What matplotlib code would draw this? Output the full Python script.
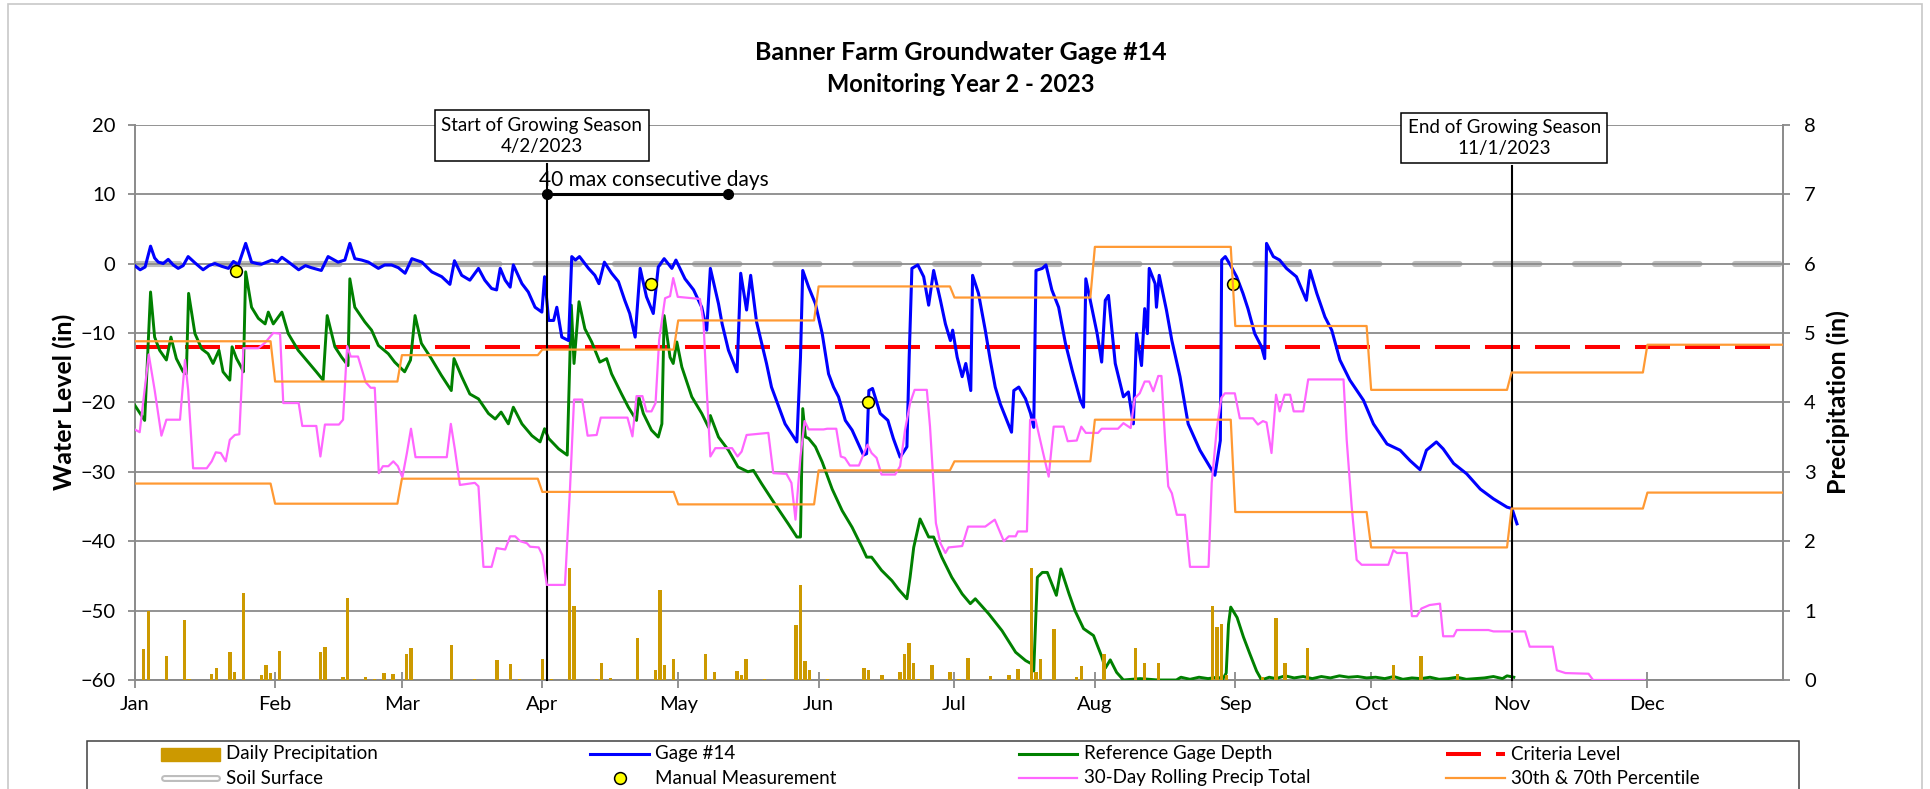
import matplotlib
matplotlib.use("Agg")
import matplotlib.pyplot as plt
from matplotlib.lines import Line2D
from matplotlib.patches import Rectangle

plt.rcParams['font.family'] = ['Lato', 'DejaVu Sans']
plt.rcParams['lines.scale_dashes'] = False

# ---- data (x = day of year, Jan 1 = 0) ----
month_starts = [0, 31, 59, 90, 120, 151, 181, 212, 243, 273, 304, 334]
month_labels = ['Jan', 'Feb', 'Mar', 'Apr', 'May', 'Jun',
                'Jul', 'Aug', 'Sep', 'Oct', 'Nov', 'Dec']

gage_day = [0, 1.2, 2.3, 3.5, 4.4, 5.2, 6.3, 7.4, 8.5, 9.6, 10.7, 11.8, 13.3, 15.1, 16.4,
            17.7, 19.2, 20.7, 21.8, 22.9, 24.5, 25.8, 27.0, 28.0, 30.3, 31.5, 32.5, 34.0,
            36.2, 37.7, 39.0, 41.2, 42.7, 44.9, 46.4, 47.5, 48.6, 50.1, 51.6, 53.8, 55.2,
            56.7, 58.2, 59.7, 61.2, 63.4, 65.6, 67.8, 69.6, 70.6, 72.2, 74.0, 75.9, 77.3,
            78.8, 79.9, 80.7, 81.8, 82.9, 83.6, 85.5, 86.9, 88.4, 89.9, 90.5, 91.4, 92.5,
            93.2, 94.3, 95.8, 96.5, 97.3, 98.2, 100.2, 101.6, 102.5, 103.7, 105.3, 106.8,
            108.2, 109.3, 110.5, 111.6, 113.0, 114.5, 115.6, 116.9, 118.6, 119.5, 121.5,
            123.4, 125.2, 126.3, 127.1, 128.9, 129.7, 131.1, 133.0, 133.8, 135.1, 136.0,
            137.3, 139.5, 140.6, 143.6, 146.2, 147.0, 147.5, 148.8, 150.3, 151.8, 153.2,
            154.3, 155.4, 156.9, 158.4, 160.9, 161.6, 162.1, 162.9, 164.6, 166.3, 167.5,
            169.0, 170.5, 171.0, 171.6, 172.9, 174.2, 175.3, 176.4, 177.9, 179.0, 180.1,
            180.6, 181.6, 182.7, 183.5, 184.6, 185.0, 186.3, 187.8, 188.9, 190.0, 191.1,
            193.6, 194.1, 195.2, 196.7, 197.8, 198.5, 199.0, 200.4, 201.2, 202.5, 204.0,
            205.5, 207.0, 208.8, 209.5, 210.0, 211.3, 212.5, 213.5, 214.3, 215.0, 216.5,
            218.3, 219.4, 220.5, 221.2, 222.3, 223.0, 223.6, 224.0, 225.3, 225.6, 226.2,
            227.8, 229.0, 230.8, 232.6, 235.2, 237.4, 238.5, 239.7, 240.0, 240.8, 241.9,
            243.3, 244.7, 245.8, 247.3, 248.8, 249.5, 249.9, 251.4, 252.8, 254.3, 256.5,
            258.7, 259.5, 261.0, 262.8, 264.3, 266.1, 268.3, 271.3, 273.5, 276.5, 279.4,
            281.6, 283.8, 285.2, 287.4, 288.9, 291.2, 294.1, 297.1, 300.0, 303.0, 304.1,
            305.2]
gage_in = [-0.3, -0.9, -0.5, 2.5, 0.8, 0.2, 0.0, 0.6, -0.2, -0.7, -0.3, 1.0, 0.1, -0.9, -0.3,
           0.0, -0.4, -0.7, 0.3, -0.2, 2.9, 0.2, 0.0, -0.1, 0.5, 0.2, 0.9, 0.2,
           -0.9, -0.3, -0.6, -1.0, 1.0, 0.2, 0.5, 2.9, 0.7, 0.5, 0.2, -0.7, -0.2,
           -0.2, -0.6, -1.4, 0.7, 0.2, -1.2, -1.9, -3.0, 0.4, -1.7, -2.4, -0.7, -2.4,
           -3.6, -3.8, -0.7, -2.4, -3.4, -0.2, -2.9, -4.1, -6.3, -7.0, -1.9, -8.2, -8.2,
           -6.3, -10.6, -11.1, 1.0, 0.5, 1.0, -0.7, -1.7, -2.9, 0.2, -1.4, -2.6,
           -5.3, -7.2, -10.6, -0.7, -4.8, -7.2, -0.5, 0.7, -0.7, 0.5, -2.2,
           -3.8, -6.3, -9.6, -0.7, -5.8, -8.7, -12.5, -15.6, -1.4, -6.7, -1.7,
           -8.4, -14.4, -17.8, -23.1, -25.7, -13.5, -1.0, -3.4, -5.8, -10.1, -15.9,
           -17.8, -19.2, -22.6, -24.0, -27.6, -27.4, -18.3, -18.0, -21.6, -22.6, -25.2,
           -27.9, -26.4, -13.5, -0.7, -0.2, -1.9, -6.0, -1.0, -5.3, -8.7, -11.1,
           -9.6, -13.5, -16.3, -14.4, -18.3, -1.7, -4.3, -9.6, -13.9, -17.8, -20.2,
           -24.3, -18.3, -17.8, -19.5, -21.6, -23.6, -1.0, -0.7, -0.2, -3.8, -6.3,
           -11.5, -15.4, -19.7, -20.7, -2.2, -6.3, -10.1, -14.2, -5.3, -4.6, -14.4,
           -19.2, -18.5, -23.1, -10.1, -14.7, -6.5, -10.1, -0.7, -2.9, -6.3, -1.7,
           -6.7, -11.1, -16.3, -23.1, -26.9, -29.3, -30.5, -25.5, 0.5, 1.0, -0.2,
           -1.9, -4.3, -6.5, -10.1, -12.0, -13.7, 2.9, 1.0, 0.5, -0.7, -1.9,
           -5.3, -1.0, -4.3, -7.7, -9.6, -13.9, -16.8, -19.7, -23.1, -26.0, -26.9,
           -28.4, -29.7, -26.9, -25.7, -26.7, -28.8, -30.3, -32.5, -33.9, -35.1, -35.3,
           -37.5]

ref_day = [0, 2.2, 3.5, 4.4, 5.5, 7.0, 8.0, 9.2, 10.7, 11.4, 11.9, 13.3, 14.8, 16.2, 17.3,
           18.6, 19.5, 21.0, 21.5, 22.5, 23.5, 24.0, 24.5, 25.8, 27.3, 28.8, 29.5, 30.6,
           32.5, 33.9, 36.1, 38.3, 40.1, 41.6, 42.5, 44.2, 45.7, 47.1, 47.5, 48.6, 50.8,
           52.3, 53.8, 56.0, 57.4, 59.6, 60.9, 61.9, 63.3, 65.5, 67.7, 69.9, 70.5, 72.2,
           74.0, 75.9, 78.1, 79.6, 80.9, 82.5, 83.6, 85.5, 87.7, 89.5, 90.5, 91.4, 93.6,
           95.5, 96.4, 97.0, 98.1, 99.4, 100.9, 102.7, 104.2, 105.3, 107.5, 109.0, 110.8,
           111.3, 112.3, 114.1, 115.6, 116.4, 116.9, 118.2, 118.9, 119.7, 120.8, 123.0,
           125.2, 126.7, 127.1, 128.9, 131.1, 133.2, 135.4, 136.6, 138.4, 141.3, 144.3,
           146.2, 147.0, 147.5, 148.1, 148.8, 150.3, 151.8, 154.0, 156.2, 158.4, 160.6,
           161.6, 162.7, 164.9, 167.2, 168.6, 170.5, 171.2, 172.0, 173.4, 175.3, 176.4,
           178.2, 180.4, 182.7, 184.5, 185.6, 188.6, 191.5, 194.5, 196.7, 198.1, 198.5,
           199.3, 200.4, 201.5, 203.5, 204.5, 206.3, 207.6, 209.5, 211.7, 213.5, 214.3,
           215.4, 216.8, 218.3, 222, 226, 230, 231, 233, 235, 237, 239, 240.3, 241.0,
           241.5, 242.0, 243.4, 244.8, 246.2, 247.7, 248.8, 250.5, 252, 254, 256, 258,
           260, 262, 264, 266, 268, 270, 272, 274, 276, 278, 280, 282, 284, 286, 288,
           290, 292, 294, 296, 298, 300, 302, 303, 304.5]
ref_in = [-20.4, -22.6, -4.1, -10.6, -12.5, -13.9, -10.6, -13.7, -15.6, -15.9, -4.3, -10.1,
          -12.3, -13.0, -14.4, -12.5, -15.6, -16.8, -12.0, -13.7, -14.9, -15.6, -1.2, -6.3,
          -7.9, -8.7, -7.0, -8.7, -7.0, -10.1, -12.5, -14.2, -15.6, -16.8, -7.5, -12.0,
          -13.5, -14.7, -2.2, -6.3, -8.4, -9.6, -11.8, -13.0, -14.2, -15.6, -13.9, -7.5,
          -11.5, -13.7, -16.1, -18.3, -13.7, -16.3, -18.8, -19.5, -21.6, -22.4, -21.4,
          -23.1, -20.7, -23.1, -24.8, -25.7, -23.8, -25.2, -26.7, -27.6, -6.0, -14.4,
          -5.5, -9.4, -11.3, -14.2, -13.7, -15.9, -18.8, -20.7, -22.6, -19.2, -21.6,
          -24.0, -25.0, -23.1, -7.5, -13.5, -14.4, -11.3, -14.9, -19.2, -21.6, -23.6,
          -21.9, -25.0, -26.9, -29.3, -30.0, -29.8, -31.7, -34.6, -37.5, -39.4, -39.4,
          -20.9, -25.0, -25.2, -26.4, -28.6, -32.5, -35.6, -38.0, -40.9, -42.3, -42.3,
          -44.2, -45.7, -46.9, -48.3, -45.2, -40.9, -36.8, -39.4, -39.4, -42.3, -45.2,
          -47.6, -49.0, -48.3, -50.5, -52.9, -56.0, -57.2, -57.7, -58.7, -45.2, -44.5,
          -44.5, -47.8, -44.0, -47.6, -50.0, -52.6, -53.6, -56.6, -58.3, -57.1, -58.9,
          -60.0, -59.8, -60.0, -60.0, -59.6, -59.9, -59.6, -59.8, -59.6, -59.8, -59.0,
          -52.0, -49.5, -51.0, -53.8, -56.2, -58.7, -60.0, -59.6, -59.8, -59.4, -59.7,
          -59.5, -59.8, -59.5, -59.7, -59.4, -59.6, -59.5, -59.7, -59.6, -59.8, -59.5,
          -59.9, -59.7, -59.8, -59.6, -59.9, -59.8, -59.6, -59.9, -59.8, -59.7, -59.5,
          -59.8, -59.4, -59.6]

rolling_day = [0, 1.1, 3.1, 4.4, 5.9, 7.0, 10.0, 11.1, 11.8, 12.9, 15.9, 17.0, 17.9, 19.0,
               20.1, 21.0, 22.1, 23.1, 24.0, 27.3, 28.8, 30.6, 32.1, 32.8, 36.2, 37.0, 40.1,
               41.0, 42.0, 45.1, 46.0, 46.9, 47.7, 49.3, 51.0, 52.1, 53.0, 53.9, 54.8, 56.0,
               57.1, 58.1, 59.1, 60.1, 61.0, 62.0, 68.9, 69.8, 70.7, 71.8, 75.1, 75.9, 77.0,
               78.8, 79.9, 81.8, 82.9, 84.0, 85.1, 86.6, 87.3, 89.2, 90.0, 91.0, 95.0, 96.1,
               97.0, 98.8, 100.0, 102.0, 102.9, 108.8, 109.9, 110.8, 112.1, 113.0, 114.1,
               115.0, 115.8, 117.1, 118.2, 118.9, 119.9, 124.8, 125.6, 126.3, 127.1, 128.2,
               131.9, 133.1, 134.0, 135.1, 139.9, 141.0, 143.9, 145.0, 145.9, 147.0, 147.9,
               148.8, 152.1, 152.9, 154.9, 155.9, 156.8, 157.9, 159.9, 161.8, 162.7, 163.8,
               164.9, 167.9, 169.0, 170.1, 171.2, 172.2, 174.9, 175.6, 176.9, 177.9, 179.0,
               179.7, 182.7, 184.0, 187.8, 189.9, 191.9, 193.0, 194.5, 195.0, 197.0, 197.7,
               198.9, 200.4, 201.8, 202.9, 205.1, 206.0, 208.0, 209.0, 210.0, 212.7, 213.5,
               217.1, 218.3, 219.9, 220.8, 221.9, 223.0, 224.0, 224.9, 226.0, 226.7, 227.5,
               228.2, 229.0, 230.1, 231.9, 233.0, 237.1, 237.8, 238.9, 239.9, 240.7, 242.9,
               244.0, 246.9, 248.0, 249.1, 249.9, 251.0, 252.0, 252.8, 253.9, 255.1, 255.9,
               258.0, 259.1, 266.9, 267.6, 268.7, 269.8, 270.9, 276.8, 277.9, 278.7, 280.9,
               282.0, 283.1, 284.1, 285.9, 288.2, 288.9, 291.2, 291.9, 298.9, 300.0, 307.0,
               308.0, 313.1, 314.0, 315.9, 321.0, 322.0, 333.3]
rolling_in = [3.61, 3.57, 4.69, 4.18, 3.52, 3.75, 3.75, 4.61, 4.18, 3.05, 3.05, 3.15, 3.28,
              3.27, 3.15, 3.46, 3.53, 3.54, 4.78, 4.78, 4.86, 5.00, 4.99, 3.99, 3.99, 3.66,
              3.66, 3.22, 3.68, 3.68, 3.75, 4.81, 4.66, 4.66, 4.29, 4.21, 4.21, 2.98, 3.08,
              3.08, 3.15, 3.08, 2.92, 3.27, 3.62, 3.21, 3.21, 3.69, 3.32, 2.81, 2.84, 2.79,
              1.63, 1.63, 1.90, 1.88, 2.07, 2.07, 2.00, 1.97, 1.92, 1.91, 1.80, 1.37, 1.37,
              2.74, 4.04, 4.04, 3.52, 3.53, 3.78, 3.78, 3.51, 4.09, 4.09, 3.87, 3.87, 3.99,
              4.90, 5.50, 5.53, 5.79, 5.52, 5.49, 5.14, 4.18, 3.22, 3.34, 3.34, 3.22, 3.29,
              3.53, 3.56, 2.98, 2.97, 2.84, 2.31, 3.22, 3.73, 3.61, 3.61, 3.62, 3.62, 3.22,
              3.20, 3.09, 3.09, 3.39, 3.27, 3.20, 2.96, 2.96, 3.08, 3.61, 3.99, 4.18, 4.18,
              3.65, 2.26, 1.97, 1.83, 1.91, 1.93, 2.21, 2.21, 2.31, 2.00, 2.07, 2.07, 2.14,
              2.14, 3.75, 3.75, 3.32, 2.93, 3.65, 3.65, 3.44, 3.45, 3.65, 3.56, 3.56, 3.62,
              3.62, 3.70, 3.63, 4.06, 4.13, 4.30, 4.30, 4.16, 4.38, 4.38, 3.46, 2.79, 2.69,
              2.38, 2.38, 1.63, 1.63, 2.84, 3.61, 4.06, 4.13, 4.13, 3.77, 3.77, 3.68, 3.73,
              3.71, 3.27, 4.11, 3.87, 4.11, 4.11, 3.87, 3.87, 4.33, 4.33, 3.46, 2.50, 1.73,
              1.66, 1.66, 1.87, 1.83, 1.83, 0.92, 0.92, 1.03, 1.08, 1.10, 0.63, 0.63, 0.72,
              0.72, 0.70, 0.70, 0.48, 0.48, 0.14, 0.10, 0.09, 0.00, 0.00]

precip_day = [2, 3, 7, 11, 12, 17, 18, 21, 22, 24, 28, 29, 30, 32, 41, 42, 46, 47, 51, 53,
              55, 57, 60, 61, 70, 75, 80, 83, 85, 90, 92, 96, 97, 102, 103, 105, 111, 115,
              116, 117, 119, 126, 128, 133, 134, 135, 139, 146, 147, 148, 149, 153, 161,
              162, 165, 169, 170, 171, 172, 173, 176, 180, 182, 184, 189, 193, 195, 198,
              199, 200, 203, 208, 209, 214, 221, 223, 226, 238, 239, 240, 241, 249, 252,
              254, 259, 278, 284, 292]
precip_in = [0.44, 1.00, 0.34, 0.87, 0.02, 0.09, 0.17, 0.41, 0.11, 1.25, 0.07, 0.22, 0.10,
             0.42, 0.41, 0.48, 0.04, 1.18, 0.04, 0.02, 0.10, 0.08, 0.38, 0.46, 0.50, 0.02,
             0.29, 0.23, 0.01, 0.30, 0.01, 1.62, 1.06, 0.02, 0.24, 0.03, 0.60, 0.15, 1.30,
             0.22, 0.30, 0.38, 0.12, 0.13, 0.07, 0.30, 0.02, 0.79, 1.37, 0.28, 0.15, 0.02,
             0.18, 0.14, 0.07, 0.12, 0.38, 0.54, 0.24, 0.02, 0.22, 0.11, 0.02, 0.31, 0.06,
             0.07, 0.16, 1.62, 0.12, 0.30, 0.73, 0.04, 0.20, 0.38, 0.46, 0.24, 0.24, 1.07,
             0.77, 0.81, 0.07, 0.04, 0.89, 0.24, 0.46, 0.22, 0.34, 0.09]

# monthly 30th / 70th percentile of 30-day precip
pct70_in = [4.88, 4.30, 4.68, 4.76, 5.18, 5.67, 5.51, 6.24, 5.10, 4.18, 4.43, 4.83]
pct30_in = [2.83, 2.54, 2.90, 2.71, 2.53, 3.02, 3.15, 3.75, 2.42, 1.91, 2.47, 2.70]

manual_day = [22.4, 113.9, 161.9, 242.5]
manual_in = [-1.1, -3.0, -19.9, -3.0]

soil_level = 0
criteria_level = -12
season_start, season_end = 91, 304
run_days = 40

# ---- styling ----
W, H = 1931, 789
BLUE, GREEN, RED = '#0000FF', '#008000', '#FF0000'
PINK, ORANGE, GOLD = '#FF66FF', '#FF9933', '#CC9900'
SOIL, GRID = '#BEBEBE', '#8A8A8A'
FS = 13.5
TICK_FS = 14.5

fig = plt.figure(figsize=(W / 100, H / 100), dpi=100)
ax = fig.add_axes([134.7 / W, 1 - 680 / H, (1783.3 - 134.7) / W, (680 - 124.7) / H])
ax.set_xlim(0, 364)
ax.set_ylim(-60, 20)
ax.set_yticks(range(-60, 21, 10))
ax.set_xticks(month_starts)
ax.set_xticklabels(month_labels)
ax.set_axisbelow('line')
ax.yaxis.grid(True, color=GRID, lw=1.3)
for s in ['left', 'bottom']:
    ax.spines[s].set_color(GRID)
    ax.spines[s].set_linewidth(1.4)
ax.spines['top'].set_visible(False)
ax.spines['right'].set_visible(False)
ax.tick_params(axis='y', direction='out', length=5, width=1.3, color=GRID,
               labelsize=TICK_FS, pad=9)
ax.tick_params(axis='x', direction='inout', length=11, width=1.3, color=GRID,
               labelsize=TICK_FS, pad=6)

ax2 = ax.twinx()
ax2.set_ylim(0, 8)
ax2.set_yticks(range(0, 9))
for s in ['left', 'bottom', 'top']:
    ax2.spines[s].set_visible(False)
ax2.spines['right'].set_color(GRID)
ax2.spines['right'].set_linewidth(1.4)
ax2.tick_params(axis='y', direction='out', length=5, width=1.3, color=GRID,
                labelsize=TICK_FS, pad=10)

# primary axis series
soil_dash = (0, (32.0, 25.6))
crit_dash = (0, (25.2, 10.8))
ax.plot([0, 364], [soil_level, soil_level], color=SOIL, lw=4.4, linestyle=soil_dash,
        dash_capstyle='round', zorder=1)
ax.plot([0, 364], [criteria_level, criteria_level], color=RED, lw=2.9,
        linestyle=crit_dash, zorder=2)
ax.plot(ref_day, ref_in, color=GREEN, lw=2.1, zorder=3)
ax.plot(gage_day, gage_in, color=BLUE, lw=2.2, zorder=4)
ax.plot(manual_day, manual_in, 'o', ms=8.5, mfc='#FFFF00', mec='black', mew=1.1, zorder=6)

# growing season markers
ax.plot([season_start, season_start], [-60, 14.3], color='black', lw=1.5, zorder=5,
        clip_on=False)
ax.plot([season_end, season_end], [-60, 14.0], color='black', lw=1.5, zorder=5,
        clip_on=False)
ax.plot([season_start, season_start + run_days], [10, 10], color='black', lw=2.2,
        marker='o', ms=7, zorder=5)
ax.text(89.3, 12.0, f'{run_days} max consecutive days', fontsize=15, va='center',
        ha='left', zorder=7)
box = dict(boxstyle='square,pad=0.35', fc='white', ec='black', lw=1.1)
ax.text(89.9, 18.4, 'Start of Growing Season\n4/2/2023', fontsize=FS, ha='center',
        va='center', linespacing=1.25, bbox=box, zorder=8, clip_on=False)
ax.text(302.4, 18.1, 'End of Growing Season\n11/1/2023', fontsize=FS, ha='center',
        va='center', linespacing=1.25, bbox=box, zorder=8, clip_on=False)

# secondary axis series
ax2.bar(precip_day, precip_in, width=0.75, color=GOLD, zorder=1)
ax2.plot(rolling_day, rolling_in, color=PINK, lw=1.6, zorder=2)
for vals in (pct70_in, pct30_in):
    xs, ys = [], []
    for m, v in enumerate(vals):
        last = month_starts[m + 1] - 1 if m < 11 else 364
        xs += [month_starts[m], last]
        ys += [v, v]
    ax2.plot(xs, ys, color=ORANGE, lw=1.6, zorder=3)

# axis titles
ymid = 1 - (124.7 + 680) / 2 / H
fig.text(64.5 / W, ymid, 'Water Level (in)', fontsize=18, fontweight='bold',
         rotation=90, ha='center', va='center')
fig.text(1838.5 / W, ymid, 'Precipitation (in)', fontsize=18, fontweight='bold',
         rotation=90, ha='center', va='center')

fig.text(961 / W, 1 - 53 / H, 'Banner Farm Groundwater Gage #14', fontsize=18,
         fontweight='bold', ha='center', va='center')
fig.text(961 / W, 1 - 84 / H, 'Monitoring Year 2 - 2023', fontsize=17,
         fontweight='bold', ha='center', va='center')

# chart border and legend frame
fig.add_artist(Rectangle((8 / W, -0.1), (1922 - 8) / W, 1.1 - 4 / H, transform=fig.transFigure,
                         fill=False, ec='#C8C8C8', lw=1.2))
fig.add_artist(Rectangle((87 / W, -0.1), (1799 - 87) / W, 0.1 + (H - 741) / H,
                         transform=fig.transFigure, fill=False, ec='#404040', lw=1.1))


def fig_line(x0, x1, y, **kw):
    fig.add_artist(Line2D([x0 / W, x1 / W], [1 - y / H, 1 - y / H],
                          transform=fig.transFigure, **kw))


col_x = [160.6, 590.0, 1018.5, 1446.5]
row_y = [754, 778]
hl = 59
entries = [
    (0, 0, 'Daily Precipitation'), (1, 0, 'Gage #14'),
    (2, 0, 'Reference Gage Depth'), (3, 0, 'Criteria Level'),
    (0, 1, 'Soil Surface'), (1, 1, 'Manual Measurement'),
    (2, 1, '30-Day Rolling Precip Total'), (3, 1, '30th & 70th Percentile'),
]
for c, r, label in entries:
    x0, y = col_x[c], row_y[r]
    fig.text((x0 + hl + 6) / W, 1 - y / H, label, fontsize=FS, va='center', ha='left')
fig.add_artist(Rectangle((col_x[0] / W, 1 - (754 + 6.5) / H), hl / W, 13 / H,
                         transform=fig.transFigure, color=GOLD))
fig_line(col_x[1], col_x[1] + hl, 754, color=BLUE, lw=2.2)
fig_line(col_x[2], col_x[2] + hl, 754, color=GREEN, lw=2.2)
fig_line(col_x[3], col_x[3] + hl, 754, color=RED, lw=2.9, linestyle=crit_dash)
fig_line(col_x[0] + 3, col_x[0] + hl - 3, 778, color='#BDBDBD', lw=5.0,
         solid_capstyle='round')
fig_line(col_x[0] + 3, col_x[0] + hl - 3, 778, color='white', lw=2.0,
         solid_capstyle='round')
fig.add_artist(Line2D([(col_x[1] + hl / 2) / W], [1 - 778 / H], transform=fig.transFigure,
                      marker='o', ms=8.5, mfc='#FFFF00', mec='black', mew=1.1))
fig_line(col_x[2], col_x[2] + hl, 778, color=PINK, lw=1.6)
fig_line(col_x[3], col_x[3] + hl, 778, color=ORANGE, lw=1.6)

fig.savefig('out.png', dpi=100)
